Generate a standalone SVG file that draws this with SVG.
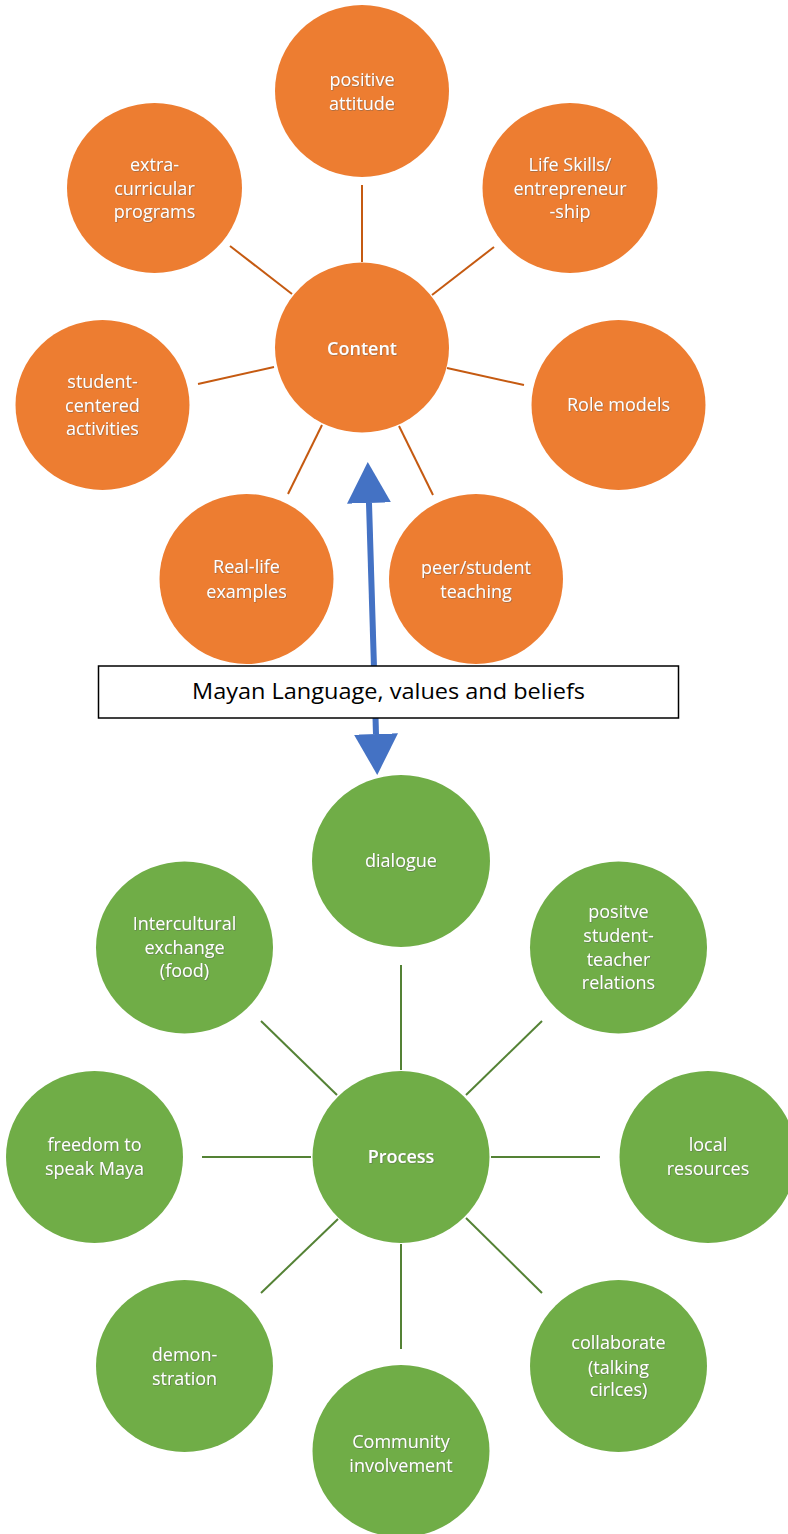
<svg xmlns="http://www.w3.org/2000/svg" width="788" height="1534" viewBox="0 0 788 1534">
<style>
.o{fill:#ED7D31}
.g{fill:#70AD47}
.ol{stroke:#C55A11;stroke-width:2;fill:none}
.gl{stroke:#548235;stroke-width:2;fill:none}
.t{font-family:"Open Sans","Liberation Sans",sans-serif;font-size:18px;fill:#ffffff;text-anchor:middle;filter:url(#sh)}
.b{font-weight:600}
.box{fill:#ffffff;stroke:#000000;stroke-width:1.5}
.bt{font-family:"Open Sans","Liberation Sans",sans-serif;font-size:21px;fill:#000000;text-anchor:middle}
</style>
<defs>
<filter id="sh" x="-10%" y="-30%" width="120%" height="160%">
<feDropShadow dx="0.6" dy="0.6" stdDeviation="0.5" flood-color="#5a5a5a" flood-opacity="0.7"/>
</filter>
<marker id="ah" markerUnits="userSpaceOnUse" markerWidth="42" markerHeight="44" viewBox="0 0 42 44" refX="0" refY="22" orient="auto-start-reverse">
<path d="M0,0 L41,22 L0,44 z" fill="#4472C4"/>
</marker>
</defs>
<g id="connectors">
<line class="ol" x1="362" y1="185" x2="362" y2="262"/>
<line class="ol" x1="230" y1="246" x2="292" y2="294"/>
<line class="ol" x1="494" y1="247" x2="432" y2="295"/>
<line class="ol" x1="198" y1="384" x2="274" y2="367"/>
<line class="ol" x1="447" y1="368" x2="524" y2="385"/>
<line class="ol" x1="322" y1="425" x2="288" y2="494"/>
<line class="ol" x1="399" y1="426" x2="433" y2="495"/>
<line class="gl" x1="401" y1="965" x2="401" y2="1070"/>
<line class="gl" x1="261" y1="1021" x2="337" y2="1095"/>
<line class="gl" x1="542" y1="1021" x2="466" y2="1095"/>
<line class="gl" x1="202" y1="1157" x2="311" y2="1157"/>
<line class="gl" x1="491" y1="1157" x2="600" y2="1157"/>
<line class="gl" x1="338" y1="1219" x2="261" y2="1293"/>
<line class="gl" x1="401" y1="1244" x2="401" y2="1349"/>
<line class="gl" x1="466" y1="1218" x2="542" y2="1293"/>
<line x1="369" y1="503" x2="376" y2="734" stroke="#4472C4" stroke-width="6" marker-start="url(#ah)" marker-end="url(#ah)"/>
</g>
<g id="n-positive-attitude"><ellipse class="o" cx="362" cy="91" rx="87" ry="86"/><text class="t" x="362" y="86">positive<tspan x="362" dy="24">attitude</tspan></text></g>
<g id="n-extra-curricular"><ellipse class="o" cx="154.5" cy="188" rx="87.5" ry="85"/><text class="t" x="154.5" y="171">extra-<tspan x="154.5" dy="23.5">curricular</tspan><tspan x="154.5" dy="23.5">programs</tspan></text></g>
<g id="n-life-skills"><ellipse class="o" cx="570" cy="188" rx="87.5" ry="85"/><text class="t" x="570" y="171">Life Skills/<tspan x="570" dy="23.5">entrepreneur</tspan><tspan x="570" dy="23.5">-ship</tspan></text></g>
<g id="n-content"><ellipse class="o" cx="362" cy="347.5" rx="87" ry="85"/><text class="t b" x="362" y="355">Content</text></g>
<g id="n-student-centered"><ellipse class="o" cx="102.5" cy="405" rx="87" ry="85"/><text class="t" x="102.5" y="388">student-<tspan x="102.5" dy="23.5">centered</tspan><tspan x="102.5" dy="23.5">activities</tspan></text></g>
<g id="n-role-models"><ellipse class="o" cx="618.5" cy="405" rx="87" ry="85"/><text class="t" x="618.5" y="411">Role models</text></g>
<g id="n-real-life"><ellipse class="o" cx="246.5" cy="579" rx="87" ry="85"/><text class="t" x="246.5" y="573">Real-life<tspan x="246.5" dy="24.5">examples</tspan></text></g>
<g id="n-peer-teaching"><ellipse class="o" cx="476" cy="579" rx="87" ry="85"/><text class="t" x="476" y="574">peer/student<tspan x="476" dy="24">teaching</tspan></text></g>
<g id="n-mayan"><rect class="box" x="98.5" y="666" width="580" height="52"/><text class="bt" x="388.5" y="699" textLength="393" lengthAdjust="spacingAndGlyphs">Mayan Language, values and beliefs</text></g>
<g id="n-dialogue"><ellipse class="g" cx="401" cy="861" rx="89" ry="86"/><text class="t" x="401" y="867">dialogue</text></g>
<g id="n-intercultural"><ellipse class="g" cx="184.5" cy="947.5" rx="88.5" ry="86"/><text class="t" x="184.5" y="930">Intercultural<tspan x="184.5" dy="23.5">exchange</tspan><tspan x="184.5" dy="23.5">(food)</tspan></text></g>
<g id="n-positve-relations"><ellipse class="g" cx="618.5" cy="947.5" rx="88.5" ry="86"/><text class="t" x="618.5" y="918">positve<tspan x="618.5" dy="24">student-</tspan><tspan x="618.5" dy="23.5">teacher</tspan><tspan x="618.5" dy="23">relations</tspan></text></g>
<g id="n-process"><ellipse class="g" cx="401" cy="1157" rx="88.5" ry="86"/><text class="t b" x="401" y="1163">Process</text></g>
<g id="n-freedom"><ellipse class="g" cx="94.5" cy="1157" rx="88.5" ry="86"/><text class="t" x="94.5" y="1151">freedom to<tspan x="94.5" dy="24">speak Maya</tspan></text></g>
<g id="n-local-resources"><ellipse class="g" cx="708" cy="1157" rx="88.5" ry="86"/><text class="t" x="708" y="1151">local<tspan x="708" dy="24">resources</tspan></text></g>
<g id="n-demonstration"><ellipse class="g" cx="184.5" cy="1366" rx="88.5" ry="86"/><text class="t" x="184.5" y="1361">demon-<tspan x="184.5" dy="24">stration</tspan></text></g>
<g id="n-community"><ellipse class="g" cx="401" cy="1451" rx="88.5" ry="86"/><text class="t" x="401" y="1448">Community<tspan x="401" dy="23.5">involvement</tspan></text></g>
<g id="n-collaborate"><ellipse class="g" cx="618.5" cy="1366" rx="88.5" ry="86"/><text class="t" x="618.5" y="1349">collaborate<tspan x="618.5" dy="24.5">(talking</tspan><tspan x="618.5" dy="22.5">cirlces)</tspan></text></g>
</svg>
